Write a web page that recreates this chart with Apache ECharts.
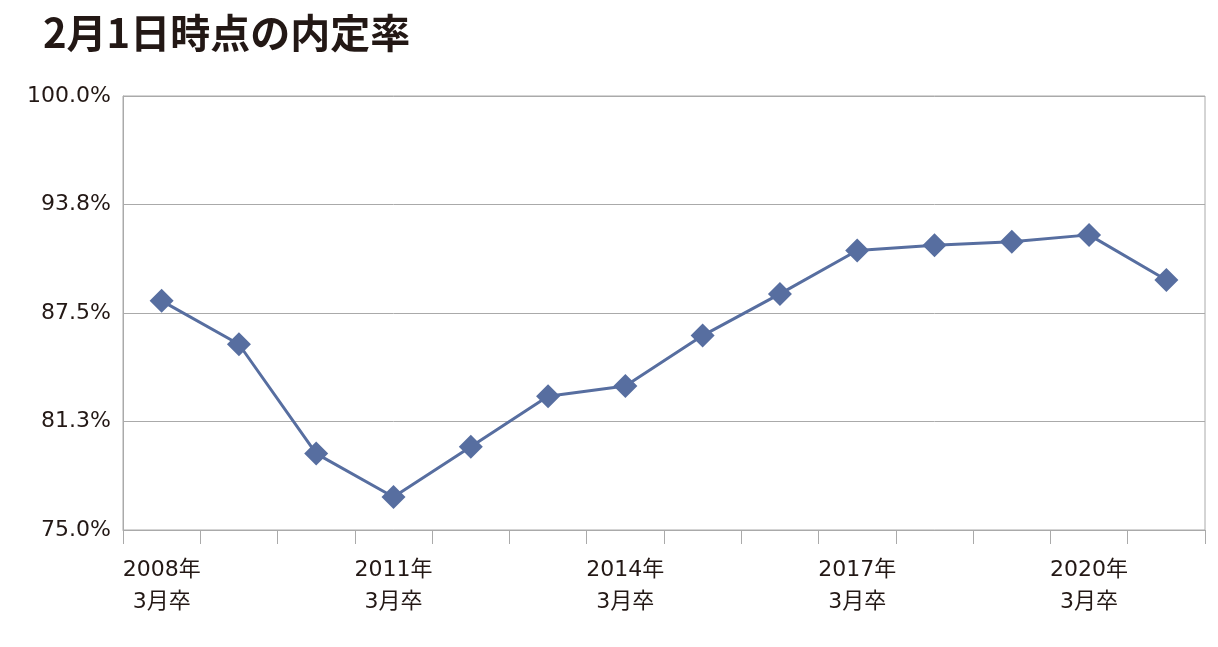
<!DOCTYPE html>
<html><head><meta charset="utf-8">
<script src="https://cdn.jsdelivr.net/npm/echarts@6/dist/echarts.min.js"></script>
<style>html,body{margin:0;padding:0;background:#fff}#c{width:1218px;height:647px}</style>
</head><body><div id="c"></div>
<script>
const categories = ['2008年\n3月卒','2009年\n3月卒','2010年\n3月卒','2011年\n3月卒','2012年\n3月卒','2013年\n3月卒','2014年\n3月卒','2015年\n3月卒','2016年\n3月卒','2017年\n3月卒','2018年\n3月卒','2019年\n3月卒','2020年\n3月卒','2021年\n3月卒'];
const values = [88.2,85.7,79.4,76.9,79.8,82.7,83.3,86.2,88.6,91.1,91.4,91.6,92.0,89.4];
const chart = echarts.init(document.getElementById('c'));
const ff = "'DejaVu Sans','Noto Sans CJK JP'";
chart.setOption({
  animation:false,
  title:{text:'2月1日時点の内定率',left:38,top:8,textStyle:{fontSize:40,fontWeight:'bold',color:'#231815',fontFamily:'Noto Sans CJK JP'}},
  grid:{left:123,right:13,top:96,bottom:117,show:true,borderColor:'#aaa',borderWidth:1},
  xAxis:{type:'category',data:categories,boundaryGap:true,
    axisLine:{show:true,lineStyle:{color:'#aaa'}},
    axisTick:{show:true,length:14,interval:0,lineStyle:{color:'#aaa'}},
    axisLabel:{interval:2,margin:24,fontSize:22,lineHeight:32,color:'#231815',fontFamily:ff}},
  yAxis:{type:'value',min:75,max:100,interval:6.25,
    axisLine:{show:true,lineStyle:{color:'#aaa'}},
    splitLine:{lineStyle:{color:'#aaa'}},
    axisLabel:{margin:12,fontSize:22,color:'#231815',fontFamily:ff,formatter:v=>v.toFixed(1)+'%'}},
  series:[{type:'line',data:values,symbol:'diamond',symbolSize:24,
    lineStyle:{color:'#576ea0',width:3},itemStyle:{color:'#576ea0'}}]
});
</script></body></html>
